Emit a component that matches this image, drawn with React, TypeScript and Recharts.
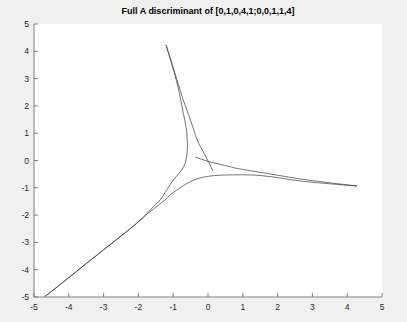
import React from 'react';
import { LineChart, Line, XAxis, YAxis, CartesianGrid } from 'recharts';

// branch coming down from the top, bending at the vertical part and running off to the lower left
const branchX = [-1.207, -1.034, -0.876, -0.784, -0.71, -0.632, -0.595, -0.595, -0.632, -0.756, -0.997, -1.187, -1.379, -1.572, -2.049, -3.0, -4.0, -4.701];
const branchY = [4.231, 3.498, 2.766, 2.216, 1.729, 1.238, 0.751, 0.385, 0.018, -0.348, -0.714, -1.081, -1.447, -1.692, -2.3, -3.27, -4.29, -5.0];

// lower branch from bottom left, flattening out and heading right
const lowerX = [-4.701, -4.0, -3.0, -2.049, -1.667, -1.236, -1.092, -0.632, -0.23, 0.23, 0.92, 1.494, 2.069, 2.845, 4.282];
const lowerY = [-5.0, -4.29, -3.27, -2.3, -1.875, -1.447, -1.264, -0.861, -0.641, -0.549, -0.524, -0.549, -0.641, -0.777, -0.934];

// steep almost straight piece from the top down past the origin
const steepX = [-1.207, -0.96, -0.71, -0.503, -0.307, -0.086, 0.144];
const steepY = [4.231, 3.24, 2.216, 1.484, 0.751, 0.201, -0.385];

// piece crossing near the origin and running out to the right
const crossX = [-0.374, 0.0, 0.345, 0.632, 0.92, 1.868, 2.845, 4.282];
const crossY = [0.128, -0.03, -0.14, -0.225, -0.31, -0.51, -0.71, -0.934];

const ticks = [-5, -4, -3, -2, -1, 0, 1, 2, 3, 4, 5];

const toPoints = (xs: number[], ys: number[]) => xs.map((x, i) => ({ x, y: ys[i] }));

const curves = [
  toPoints(branchX, branchY),
  toPoints(lowerX, lowerY),
  toPoints(steepX, steepY),
  toPoints(crossX, crossY),
];

const font = '"Liberation Sans", Arial, Helvetica, sans-serif';
const tickStyle = { fill: '#262626', fontSize: 8.5, fontFamily: font };

export default function App() {
  return (
    <div style={{ position: 'absolute', left: 0, top: 0, width: 407, height: 322, background: '#f0f0f0' }}>
      <div
        style={{
          position: 'absolute',
          left: 34,
          top: 6,
          width: 348,
          textAlign: 'center',
          fontFamily: font,
          fontWeight: 'bold',
          fontSize: 9,
          lineHeight: '11px',
          color: '#000',
        }}
      >
        Full A discriminant of [0,1,0,4,1;0,0,1,1,4]
      </div>
      <LineChart width={407} height={322} margin={{ top: 24, right: 25, bottom: 5, left: 4 }}>
        <CartesianGrid horizontal={false} vertical={false} fill="#fff" />
        <XAxis
          type="number"
          dataKey="x"
          domain={[-5, 5]}
          ticks={ticks}
          height={20}
          tickSize={-4}
          tickMargin={11}
          interval={0}
          stroke="#808080"
          tick={tickStyle}
        />
        <YAxis
          type="number"
          dataKey="y"
          domain={[-5, 5]}
          ticks={ticks}
          width={30}
          tickSize={-4}
          tickMargin={9}
          interval={0}
          stroke="#808080"
          tick={tickStyle}
        />
        {curves.map((pts, i) => (
          <Line
            key={i}
            data={pts}
            dataKey="y"
            type="natural"
            stroke="#3a3a3a"
            strokeWidth={0.7}
            dot={false}
            isAnimationActive={false}
          />
        ))}
      </LineChart>
    </div>
  );
}
